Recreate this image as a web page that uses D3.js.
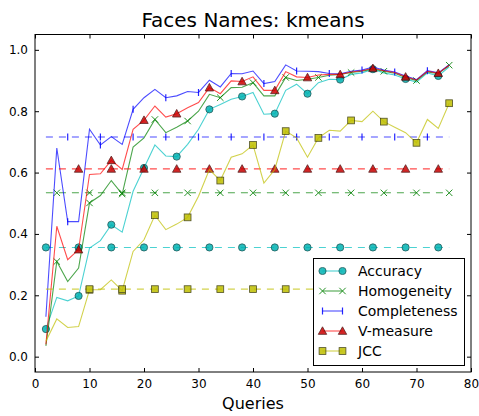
<!DOCTYPE html>
<html>
<head>
<meta charset="utf-8">
<script src="https://cdn.jsdelivr.net/npm/d3@7"></script>
<style>
  html, body { margin: 0; padding: 0; background: #fff; }
  svg { display: block; font-family: "DejaVu Sans", sans-serif; }
</style>
</head>
<body>
<svg id="chart" width="479" height="416"></svg>
<script>
// Number of queries at each step
const queries = d3.range(2, 78, 2);

// Clustering scores per query count
const accuracy = [0.09, 0.193, 0.182, 0.198, 0.354, 0.378, 0.43, 0.406, 0.539, 0.615,
  0.69, 0.654, 0.652, 0.692, 0.741, 0.806, 0.822, 0.839, 0.848, 0.861,
  0.79, 0.792, 0.868, 0.888, 0.857, 0.893, 0.904, 0.903, 0.92, 0.925,
  0.937, 0.925, 0.918, 0.905, 0.895, 0.925, 0.915, 0.945];
const homogeneity = [0.035, 0.31, 0.245, 0.289, 0.501, 0.525, 0.574, 0.53, 0.683, 0.713,
  0.773, 0.73, 0.748, 0.768, 0.8, 0.855, 0.844, 0.877, 0.878, 0.893,
  0.85, 0.85, 0.91, 0.9, 0.904, 0.91, 0.917, 0.92, 0.926, 0.93,
  0.938, 0.93, 0.924, 0.91, 0.9, 0.928, 0.922, 0.95];
const completeness = [0.13, 0.68, 0.44, 0.44, 0.741, 0.69, 0.717, 0.692, 0.806, 0.844,
  0.871, 0.844, 0.85, 0.864, 0.861, 0.901, 0.879, 0.923, 0.922, 0.931,
  0.89, 0.897, 0.951, 0.931, 0.93, 0.929, 0.923, 0.922, 0.93, 0.934,
  0.944, 0.934, 0.928, 0.915, 0.903, 0.932, 0.925, 0.952];
const vmeasure = [0.04, 0.425, 0.316, 0.349, 0.594, 0.596, 0.64, 0.61, 0.741, 0.771,
  0.817, 0.781, 0.792, 0.811, 0.828, 0.877, 0.857, 0.899, 0.897, 0.912,
  0.868, 0.868, 0.929, 0.912, 0.91, 0.918, 0.92, 0.92, 0.928, 0.932,
  0.94, 0.932, 0.926, 0.912, 0.902, 0.93, 0.924, 0.95];
const jcc = [0.05, 0.123, 0.095, 0.098, 0.218, 0.218, 0.25, 0.215, 0.343, 0.381,
  0.461, 0.414, 0.432, 0.454, 0.523, 0.61, 0.574, 0.65, 0.661, 0.69,
  0.566, 0.61, 0.735, 0.713, 0.65, 0.713, 0.738, 0.735, 0.77, 0.766,
  0.8, 0.766, 0.748, 0.73, 0.697, 0.773, 0.744, 0.826];

// Unsupervised baseline score for each metric (dashed reference lines)
const baselines = [0.356, 0.534, 0.716, 0.612, 0.22];

const seriesNames = ["Accuracy", "Homogeneity", "Completeness", "V-measure", "JCC"];
const seriesValues = [accuracy, homogeneity, completeness, vmeasure, jcc];

const xTicks = [0, 10, 20, 30, 40, 50, 60, 70, 80];
const yTicks = [0.0, 0.2, 0.4, 0.6, 0.8, 1.0];

const styles = [
  { line: "#00bfbf", marker: "circle", fill: "#00b3b3" },
  { line: "#008000", marker: "x", fill: "#008000" },
  { line: "#0000ff", marker: "vline", fill: "#0000ff" },
  { line: "#ff0000", marker: "triangle", fill: "#cc0000" },
  { line: "#bfbf00", marker: "square", fill: "#bfbf00" }
];

const svg = d3.select("#chart");
const plotLeft = 35, plotRight = 471, plotTop = 34.5, plotBottom = 372;

const x = d3.scaleLinear().domain([0, 80]).range([plotLeft, plotRight]);
const y = d3.scaleLinear().domain([-0.05, 1.05]).range([plotBottom, plotTop]);

const plot = svg.append("g");
plot.append("clipPath").attr("id", "clip")
  .append("rect").attr("x", plotLeft).attr("y", plotTop)
  .attr("width", plotRight - plotLeft).attr("height", plotBottom - plotTop);

const body = plot.append("g").attr("clip-path", "url(#clip)");

function drawMarker(g, kind, cx, cy, st) {
  if (kind === "circle") {
    g.append("circle").attr("cx", cx).attr("cy", cy).attr("r", 3.6)
      .attr("fill", st.fill).attr("stroke", "#004040").attr("stroke-width", 0.8);
  } else if (kind === "square") {
    g.append("rect").attr("x", cx - 3.4).attr("y", cy - 3.4).attr("width", 6.8).attr("height", 6.8)
      .attr("fill", st.fill).attr("stroke", "#333300").attr("stroke-width", 0.8);
  } else if (kind === "triangle") {
    const s = 4.2;
    g.append("path").attr("d", `M${cx},${cy - s}L${cx + s},${cy + s * 0.8}L${cx - s},${cy + s * 0.8}Z`)
      .attr("fill", st.fill).attr("stroke", "#400000").attr("stroke-width", 0.8);
  } else if (kind === "x") {
    const s = 3.2;
    g.append("path").attr("d", `M${cx - s},${cy - s}L${cx + s},${cy + s}M${cx - s},${cy + s}L${cx + s},${cy - s}`)
      .attr("stroke", st.fill).attr("stroke-width", 1).attr("fill", "none");
  } else if (kind === "vline") {
    g.append("path").attr("d", `M${cx},${cy - 3.5}L${cx},${cy + 3.5}`)
      .attr("stroke", st.fill).attr("stroke-width", 1.2).attr("fill", "none");
  }
}

const line = d3.line().x(d => x(d[0])).y(d => y(d[1]));

seriesValues.forEach((vals, i) => {
  const st = styles[i];
  const g = body.append("g");
  const pts = queries.map((q, k) => [q, vals[k]]);
  const base = queries.map(q => [q, baselines[i]]);

  // score curve
  g.append("path").attr("d", line(pts)).attr("fill", "none")
    .attr("stroke", st.line).attr("stroke-opacity", 0.7).attr("stroke-width", 1.1);
  // baseline
  g.append("path").attr("d", line(base)).attr("fill", "none")
    .attr("stroke", st.line).attr("stroke-opacity", 0.7).attr("stroke-width", 1.1)
    .attr("stroke-dasharray", "7,6");

  // markers every third point, staggered per series
  const mg = g.append("g").attr("opacity", 0.85);
  pts.forEach((p, k) => {
    if (k >= i && (k - i) % 3 === 0) {
      drawMarker(mg, st.marker, x(p[0]), y(p[1]), st);
      drawMarker(mg, st.marker, x(p[0]), y(baselines[i]), st);
    }
  });
});

// frame
plot.append("rect").attr("x", plotLeft).attr("y", plotTop)
  .attr("width", plotRight - plotLeft).attr("height", plotBottom - plotTop)
  .attr("fill", "none").attr("stroke", "#000").attr("stroke-width", 1);

// axes with inward ticks on all four sides
const axB = d3.axisBottom(x).tickValues(xTicks).tickSizeInner(-4).tickSizeOuter(0).tickPadding(7).tickFormat(d3.format("d"));
const axT = d3.axisTop(x).tickValues(xTicks).tickSizeInner(-4).tickSizeOuter(0).tickFormat("");
const axL = d3.axisLeft(y).tickValues(yTicks).tickSizeInner(-4).tickSizeOuter(0).tickPadding(7).tickFormat(d3.format(".1f"));
const axR = d3.axisRight(y).tickValues(yTicks).tickSizeInner(-4).tickSizeOuter(0).tickFormat("");

function styleAxis(g) {
  g.select(".domain").remove();
  g.selectAll("text").attr("font-size", 12).attr("fill", "#000")
    .attr("font-family", "DejaVu Sans, sans-serif");
  g.selectAll("line").attr("stroke", "#000");
}
svg.append("g").attr("transform", `translate(0,${plotBottom})`).call(axB).call(styleAxis);
svg.append("g").attr("transform", `translate(0,${plotTop})`).call(axT).call(styleAxis);
svg.append("g").attr("transform", `translate(${plotLeft},0)`).call(axL).call(styleAxis);
svg.append("g").attr("transform", `translate(${plotRight},0)`).call(axR).call(styleAxis);

// title and axis label
svg.append("text").attr("x", (plotLeft + plotRight) / 2).attr("y", 27)
  .attr("text-anchor", "middle").attr("font-size", 20).text("Faces Names: kmeans");
svg.append("text").attr("x", (plotLeft + plotRight) / 2).attr("y", 409)
  .attr("text-anchor", "middle").attr("font-size", 16).text("Queries");

// legend
const lg = svg.append("g");
lg.append("rect").attr("x", 313.5).attr("y", 258.5).attr("width", 151).attr("height", 107)
  .attr("fill", "#fff").attr("stroke", "#000").attr("stroke-width", 1);
seriesNames.forEach((name, i) => {
  const st = styles[i];
  const ly = 271 + i * 20;
  lg.append("line").attr("x1", 322.5).attr("x2", 342.5).attr("y1", ly).attr("y2", ly)
    .attr("stroke", st.line).attr("stroke-opacity", 0.7).attr("stroke-width", 1.1);
  const mg = lg.append("g").attr("opacity", 0.85);
  drawMarker(mg, st.marker, 322.5, ly, st);
  drawMarker(mg, st.marker, 342.5, ly, st);
  lg.append("text").attr("x", 358).attr("y", ly).attr("dy", "0.36em")
    .attr("font-size", 14).text(name);
});
</script>
</body>
</html>
